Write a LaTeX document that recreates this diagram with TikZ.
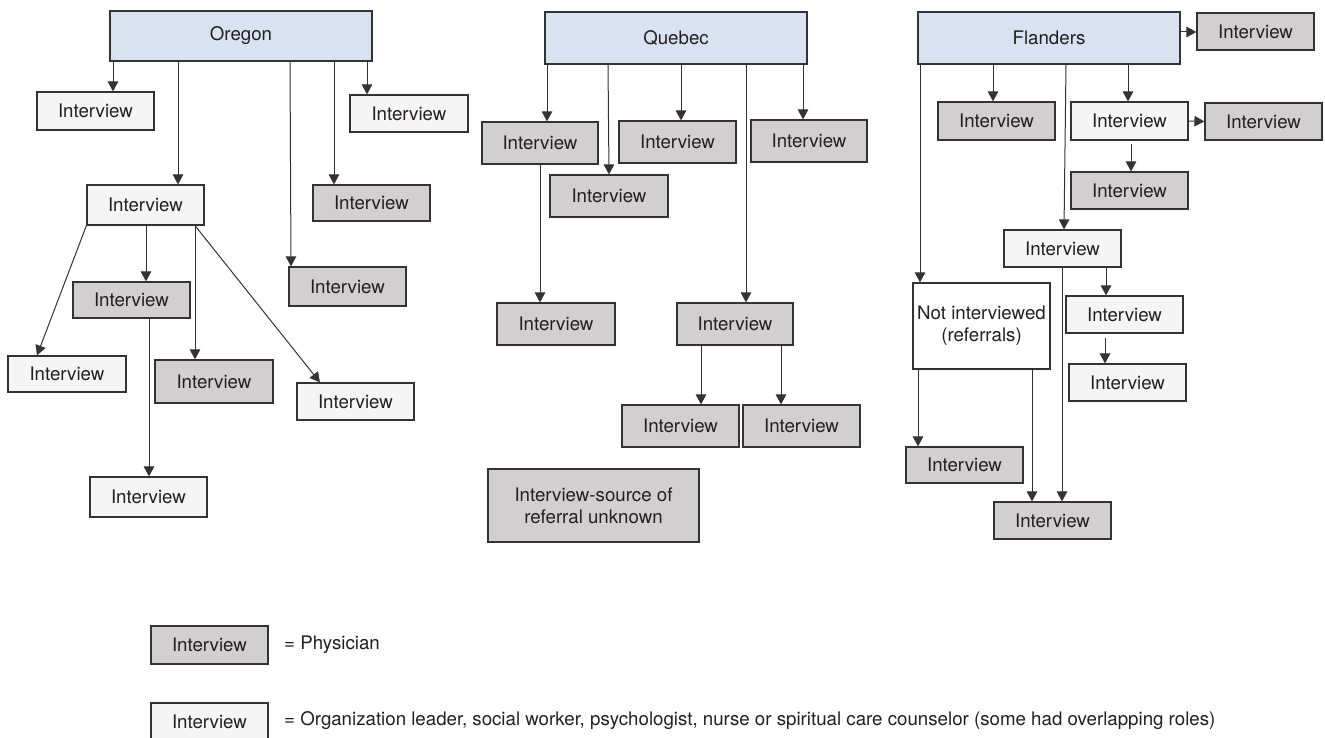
\documentclass[tikz,border=0pt]{standalone}
\usepackage{fontspec}
\setmainfont{TeX Gyre Heros}
\usetikzlibrary{arrows.meta}
\definecolor{bluefill}{HTML}{D9E2F1}
\definecolor{grayfill}{HTML}{D1CFD0}
\definecolor{whitefill}{HTML}{F5F5F5}
\definecolor{edge}{HTML}{333333}
\definecolor{txt}{HTML}{231F20}
\tikzset{
  box/.style={draw=edge, line width=1.2pt, inner sep=0pt, font=\fontsize{18.7}{22}\selectfont, text=txt, align=center},
  phys/.style={box, fill=grayfill},
  other/.style={box, fill=whitefill},
  region/.style={box, fill=bluefill},
  plainbox/.style={box, fill=white},
  arr/.style={draw=edge, line width=1pt, -{Triangle[length=10pt,width=10.5pt]}},
  legtext/.style={anchor=west, inner sep=0pt, font=\fontsize{18.7}{22}\selectfont, text=txt},
}
\newcommand{\mybox}[7]{\node[#1, minimum width={#5pt-#3pt}, minimum height={#6pt-#4pt}] (#2) at ({(#3+#5)/2},{(#4+#6)/2}) {#7};}
\begin{document}
\begin{tikzpicture}[x=1pt,y=-1pt]
\useasboundingbox (0,0) rectangle (1325,738);
% regions
\mybox{region}{Oregon}{110}{11}{372}{61}{Oregon}
\mybox{region}{Quebec}{545}{12}{807}{64}{Quebec}
\mybox{region}{Flanders}{918}{12}{1180}{64}{Flanders}
% Oregon
\mybox{other}{O1}{37}{92}{154}{130}{Interview}
\mybox{other}{O2}{350}{95}{468}{132}{Interview}
\mybox{other}{O3}{87}{185}{204}{225}{Interview}
\mybox{phys}{O4}{313}{185}{430}{221}{Interview}
\mybox{phys}{O5}{289}{267}{406}{306}{Interview}
\mybox{phys}{O6}{73}{282}{190}{318}{Interview}
\mybox{other}{O7}{8}{356}{126}{392}{Interview}
\mybox{phys}{O8}{155}{360}{273}{403}{Interview}
\mybox{other}{O9}{297}{383}{414}{420}{Interview}
\mybox{other}{O10}{90}{477}{207}{517}{Interview}
% Quebec
\mybox{phys}{Q1}{482}{122}{598}{164}{Interview}
\mybox{phys}{Q2}{550}{175}{668}{217}{Interview}
\mybox{phys}{Q3}{619}{121}{736}{163}{Interview}
\mybox{phys}{Q4}{751}{120}{867}{162}{Interview}
\mybox{phys}{Q5}{497}{303}{615}{345}{Interview}
\mybox{phys}{Q6}{677}{303}{793}{345}{Interview}
\mybox{phys}{Q7}{622}{405}{739}{447}{Interview}
\mybox{phys}{Q8}{743}{405}{860}{447}{Interview}
\mybox{phys}{Q9}{488}{469}{699}{542}{Interview-source of\\referral unknown}
% Flanders
\mybox{phys}{F1}{1197}{13}{1314}{50}{Interview}
\mybox{phys}{F2}{938}{102}{1055}{140}{Interview}
\mybox{other}{F3}{1071}{102}{1188}{140}{Interview}
\mybox{phys}{F4}{1205}{103}{1322}{140}{Interview}
\mybox{phys}{F5}{1071}{172}{1188}{209}{Interview}
\mybox{other}{F6}{1004}{230}{1121}{267}{Interview}
\mybox{other}{F7}{1066}{296}{1183}{333}{Interview}
\mybox{other}{F8}{1069}{364}{1186}{401}{Interview}
\mybox{plainbox}{NI}{913}{283}{1050}{369}{Not interviewed\\(referrals)}
\mybox{phys}{F9}{906}{447}{1023}{483}{Interview}
\mybox{phys}{F10}{994}{502}{1111}{539}{Interview}
% legend
\mybox{phys}{L1}{151}{626}{268}{664}{Interview}
\mybox{other}{L2}{151}{703}{268}{741}{Interview}
\node[legtext] (LT1) at (284,645) {= Physician};
\node[legtext] (LT2) at (284,721) {= Organization leader, social worker, psychologist, nurse or spiritual care counselor (some had overlapping roles)};
% Oregon arrows
\draw[arr] (Oregon.south -| 113,0) -- (O1.north -| 113,0);
\draw[arr] (Oregon.south -| 178,0) -- (O3.north -| 178,0);
\draw[arr] (Oregon.south -| 290,0) -- (O5.north -| 291,0);
\draw[arr] (Oregon.south -| 334,0) -- (O4.north -| 334,0);
\draw[arr] (Oregon.south -| 367,0) -- (O2.north -| 367,0);
\draw[arr] (O3.south west) -- (O7.north -| 37,0);
\draw[arr] (O3.south -| 146,0) -- (O6.north -| 146,0);
\draw[arr] (O3.south -| 195,0) -- (O8.north -| 195,0);
\draw[arr] (O3.south -| 195,0) -- (O9.north -| 320,0);
\draw[arr] (O6.south -| 149,0) -- (O10.north -| 149,0);
% Quebec arrows
\draw[arr] (Quebec.south -| 547,0) -- (Q1.north -| 547,0);
\draw[arr] (Quebec.south -| 608,0) -- (Q2.north -| 609,0);
\draw[arr] (Quebec.south -| 681,0) -- (Q3.north -| 681,0);
\draw[arr] (Quebec.south -| 746,0) -- (Q6.north -| 746,0);
\draw[arr] (Quebec.south -| 803,0) -- (Q4.north -| 803,0);
\draw[arr] (Q1.south -| 540,0) -- (Q5.north -| 540,0);
\draw[arr] (Q6.south -| 701,0) -- (Q7.north -| 701,0);
\draw[arr] (Q6.south -| 781,0) -- (Q8.north -| 781,0);
% Flanders arrows
\draw[arr] (Flanders.east |- 0,32) -- (F1.west |- 0,32);
\draw[arr] (Flanders.south -| 920,0) -- (NI.north -| 920,0);
\draw[arr] (Flanders.south -| 993,0) -- (F2.north -| 993,0);
\draw[arr] (Flanders.south -| 1066,0) -- (F6.north -| 1064,0);
\draw[arr] (Flanders.south -| 1128,0) -- (F3.north -| 1128,0);
\draw[arr] (F3.east) -- (F4.west);
\draw[arr, shorten <=3pt] (F3.south -| 1131,0) -- (F5.north -| 1131,0);
\draw[arr] (F6.south -| 1106,0) -- (F7.north -| 1106,0);
\draw[arr, shorten <=4pt] (F7.south -| 1105,0) -- (F8.north -| 1105,0);
\draw[arr] (F6.south -| 1062,0) -- (F10.north -| 1062,0);
\draw[arr] (NI.south -| 918,0) -- (F9.north -| 918,0);
\draw[arr] (NI.south -| 1032,0) -- (F10.north -| 1032,0);
\end{tikzpicture}
\end{document}
